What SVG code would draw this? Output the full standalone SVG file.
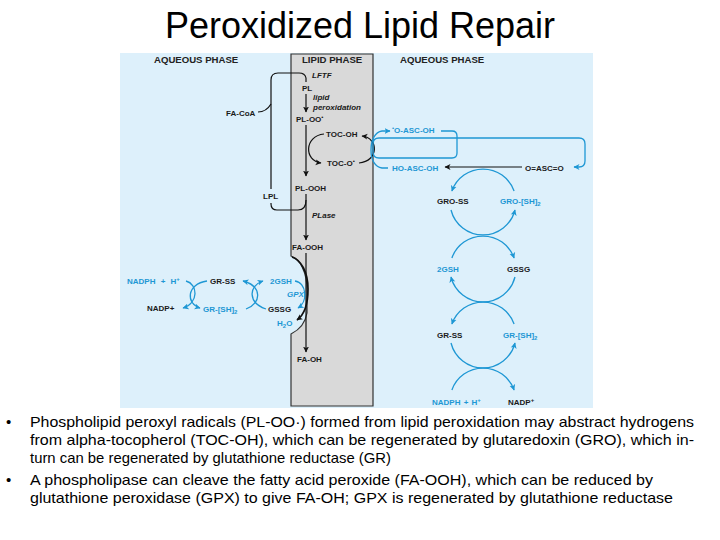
<svg xmlns="http://www.w3.org/2000/svg" width="720" height="540" viewBox="0 0 720 540">
<style>
.t{font-family:"Liberation Sans",Arial,Helvetica,sans-serif;font-weight:bold;font-size:8px;fill:#1a1a1a}
.b{fill:#1e97d4}
.i{font-style:italic}
.h{font-size:9.6px;fill:#222}
.bul{font-family:"Liberation Sans",Arial,sans-serif;font-size:15px;fill:#000}
.k{fill:none;stroke:#111;stroke-width:1.2}
.kb{fill:none;stroke:#1e97d4;stroke-width:1.3}
</style>
<defs>
<marker id="ak" markerUnits="userSpaceOnUse" markerWidth="7" markerHeight="7" refX="5.5" refY="3.5" orient="auto"><path d="M0,0.5 L6,3.5 L0,6.5 L1.6,3.5 Z" fill="#111"/></marker>
<marker id="ab" markerUnits="userSpaceOnUse" markerWidth="7" markerHeight="7" refX="5.5" refY="3.5" orient="auto"><path d="M0,0.5 L6,3.5 L0,6.5 L1.6,3.5 Z" fill="#1e97d4"/></marker>
</defs>
<rect width="720" height="540" fill="#fff"/>
<text x="360" y="38" text-anchor="middle" font-family="Liberation Sans,Arial,sans-serif" font-size="36" fill="#000">Peroxidized Lipid Repair</text>
<g id="panel">
<rect x="120" y="53" width="473" height="355" fill="#ddf0fb"/>
<path id="lipid-phase" d="M291,54 H373 V406 H291 V334 C297,331 305,325 307,313 V290 C307,272 300,259 291,256 Z" fill="#d9d9d9" stroke="#333" stroke-width="1.2"/>
</g>
<g id="connectors">
<path class="k" d="M306,94 V112" marker-end="url(#ak)"/>
<path class="k" d="M306,125 V176" marker-end="url(#ak)"/>
<path class="k" d="M306,194 V240" marker-end="url(#ak)"/>
<path class="k" d="M306,253 V352" marker-end="url(#ak)"/>
<path class="k" d="M306,200 C306,207 303,210 298,210 H277 Q271,210 271,204 V203"/>
<path class="k" d="M271,189 V80 Q271,73 278,73 H299 Q305,73 306,78 V82"/>
<path class="k" d="M258,112 C264,112 268,109 271,104"/>
<path class="k" d="M324,134 C304,136 304,161 321,163" marker-end="url(#ak)"/>
<path class="k" d="M359,163 C379,161 379,138 362,136" marker-end="url(#ak)"/>
<path class="kb" d="M388,168 H382 C375,167 371,160 371,150 C371,140 375,132 382,131 H390" marker-end="url(#ab)"/>
<path class="kb" d="M441,131 H452 Q457,131 457,136 V153 Q457,158 452,158 H379 Q373,158 373,152 V144 Q373,138 379,138 H579 Q585,138 585,144 V161 Q585,167 579,167 H574" marker-end="url(#ab)"/>
<path class="k" d="M522,167 H445" marker-end="url(#ak)"/>
<path class="kb" d="M514.1,191 A33,33 0 0 0 451.9,191" marker-end="url(#ab)"/>
<path class="kb" d="M451,210 A33,33 0 0 0 515,210" marker-end="url(#ab)"/>
<path class="kb" d="M451.9,258 A33,33 0 0 1 514.1,258" marker-end="url(#ab)"/>
<path class="kb" d="M515,277 A33,33 0 0 1 451,277" marker-end="url(#ab)"/>
<path class="kb" d="M514.1,324 A33,33 0 0 0 451.9,324" marker-end="url(#ab)"/>
<path class="kb" d="M451,343 A33,33 0 0 0 515,343" marker-end="url(#ab)"/>
<path class="kb" d="M451.9,390 A33,33 0 0 1 514.1,390" marker-end="url(#ab)"/>
<path class="kb" d="M186,281 C198,284 199,303 183,308" marker-end="url(#ab)"/>
<path class="kb" d="M207,281 C186,284 186,304 200,308" marker-end="url(#ab)"/>
<path class="kb" d="M246,309 C262,303 262,286 243,281" marker-end="url(#ab)"/>
<path class="kb" d="M266,309 C248,303 248,286 263,281" marker-end="url(#ab)"/>
<path class="kb" d="M295,281 C307,283 308,302 298,308" marker-end="url(#ab)"/>
<path d="M292,257 C301,260 308,272 308,289 C308,305 304,315 297,320" fill="none" stroke="#111" stroke-width="1.7" marker-end="url(#ak)"/>
</g>
<g id="labels">
<text class="t h" x="154" y="63">AQUEOUS PHASE</text>
<text class="t h" x="302" y="63">LIPID PHASE</text>
<text class="t h" x="400" y="63">AQUEOUS PHASE</text>
<g id="n-lftf"><text class="t i" x="312" y="78">LFTF</text></g>
<g id="n-pl"><text class="t" x="302" y="91">PL</text></g>
<g id="n-lipidperox"><text class="t i" x="313" y="100">lipid</text><text class="t i" x="313" y="110">peroxidation</text></g>
<g id="n-ploo"><text class="t" x="296" y="122">PL-OO<tspan dy="-3" font-size="6">•</tspan></text></g>
<g id="n-facoa"><text class="t" x="226" y="116">FA-CoA</text></g>
<g id="n-tocoh"><text class="t" x="326" y="137">TOC-OH</text></g>
<g id="n-toco"><text class="t" x="327" y="166">TOC-O<tspan dy="-3" font-size="6">•</tspan></text></g>
<g id="n-plooh"><text class="t" x="295" y="191">PL-OOH</text></g>
<g id="n-lpl"><text class="t" x="263" y="199">LPL</text></g>
<g id="n-plase"><text class="t i" x="312" y="218">PLase</text></g>
<g id="n-faooh"><text class="t" x="292" y="250">FA-OOH</text></g>
<g id="n-faoh"><text class="t" x="297" y="362">FA-OH</text></g>
<g id="n-nadph-l"><text class="t b" x="127" y="284" word-spacing="3">NADPH + H<tspan dy="-3" font-size="6">+</tspan></text></g>
<g id="n-grss-l"><text class="t" x="210" y="284">GR-SS</text></g>
<g id="n-2gsh-l"><text class="t b" x="270" y="284">2GSH</text></g>
<g id="n-gpx"><text class="t b i" x="287" y="297">GPX</text></g>
<g id="n-nadp-l"><text class="t" x="147" y="311">NADP+</text></g>
<g id="n-grsh-l"><text class="t b" x="203" y="312">GR-[SH]<tspan dy="2" font-size="6">2</tspan></text></g>
<g id="n-gssg-l"><text class="t" x="268" y="312">GSSG</text></g>
<g id="n-h2o"><text class="t b" x="277" y="326">H<tspan dy="2" font-size="6">2</tspan><tspan dy="-2">O</tspan></text></g>
<g id="n-oascoh"><text class="t b" x="392" y="133"><tspan dy="-3" font-size="6">•</tspan><tspan dy="3">O-ASC-OH</tspan></text></g>
<g id="n-hoascoh"><text class="t b" x="392" y="171">HO-ASC-OH</text></g>
<g id="n-oasco"><text class="t" x="525" y="171">O=ASC=O</text></g>
<g id="n-gross"><text class="t" x="437" y="204">GRO-SS</text></g>
<g id="n-grosh"><text class="t b" x="500" y="204">GRO-[SH]<tspan dy="2" font-size="6">2</tspan></text></g>
<g id="n-2gsh-r"><text class="t b" x="437" y="272">2GSH</text></g>
<g id="n-gssg-r"><text class="t" x="507" y="272">GSSG</text></g>
<g id="n-grss-r"><text class="t" x="437" y="338">GR-SS</text></g>
<g id="n-grsh-r"><text class="t b" x="503" y="338">GR-[SH]<tspan dy="2" font-size="6">2</tspan></text></g>
<g id="n-nadph-r"><text class="t b" x="432" y="405" word-spacing="1">NADPH + H<tspan dy="-3" font-size="6">+</tspan></text></g>
<g id="n-nadp-r"><text class="t" x="508" y="405">NADP<tspan dy="-3" font-size="6">+</tspan></text></g>
</g>
<g id="bullets">
<text class="bul" x="6" y="427">•</text>
<text class="bul" x="30" y="427" textLength="664" lengthAdjust="spacingAndGlyphs">Phospholipid peroxyl radicals (PL-OO·) formed from lipid peroxidation may abstract hydrogens</text>
<text class="bul" x="30" y="445" textLength="664" lengthAdjust="spacingAndGlyphs">from alpha-tocopherol (TOC-OH), which can be regenerated by glutaredoxin (GRO), which in-</text>
<text class="bul" x="30" y="463" textLength="361" lengthAdjust="spacingAndGlyphs">turn can be regenerated by glutathione reductase (GR)</text>
<text class="bul" x="6" y="485">•</text>
<text class="bul" x="30" y="485" textLength="623" lengthAdjust="spacingAndGlyphs">A phospholipase can cleave the fatty acid peroxide (FA-OOH), which can be reduced by</text>
<text class="bul" x="30" y="503" textLength="643" lengthAdjust="spacingAndGlyphs">glutathione peroxidase (GPX) to give FA-OH; GPX is regenerated by glutathione reductase</text>
</g>
</svg>
